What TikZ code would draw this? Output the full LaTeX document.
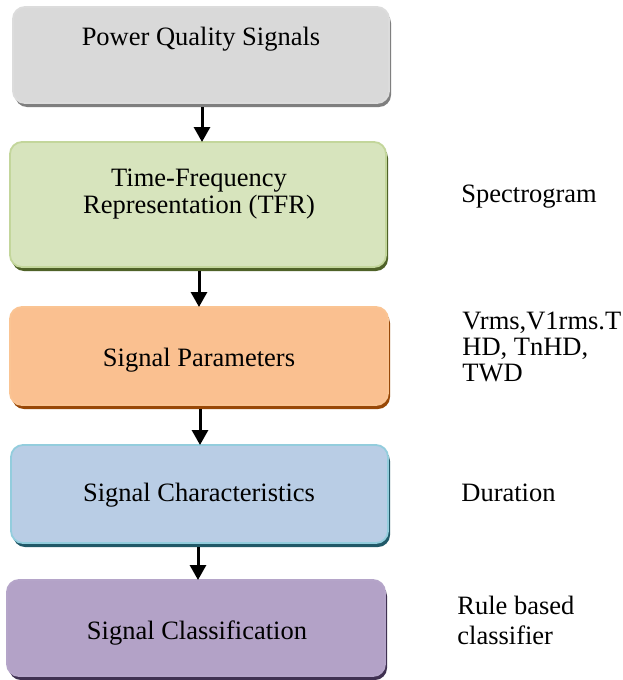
\documentclass[tikz,border=0pt]{standalone}
\usepackage{fontspec}
\newfontfamily\tnr{Liberation Serif}
\usetikzlibrary{arrows.meta,shadows}
\definecolor{grayfill}{HTML}{D9D9D9}
\definecolor{grayline}{HTML}{DCDCDC}
\definecolor{grayshadow}{HTML}{7F7F7F}
\definecolor{greenfill}{HTML}{D7E4BD}
\definecolor{greenline}{HTML}{C3D69B}
\definecolor{greenshadow}{HTML}{4F6228}
\definecolor{orangefill}{HTML}{FAC090}
\definecolor{orangeline}{HTML}{FAC493}
\definecolor{orangeshadow}{HTML}{984807}
\definecolor{bluefill}{HTML}{B9CDE5}
\definecolor{blueline}{HTML}{93CDDD}
\definecolor{blueshadow}{HTML}{215968}
\definecolor{purplefill}{HTML}{B3A2C7}
\definecolor{purpleline}{HTML}{B5A5C9}
\definecolor{purpleshadow}{HTML}{3F3151}
\tikzset{
  stagebox/.style n args={3}{rectangle, rounded corners=6pt, inner sep=0pt, outer sep=0pt,
    fill=#1, draw=#2, line width=0.9pt,
    drop shadow={shadow xshift=1pt, shadow yshift=-2pt, fill=#3, opacity=1}},
  boxtext/.style={anchor=base, inner sep=0pt, font=\tnr\fontsize{13.25}{14}\selectfont},
  sidetext/.style={anchor=base west, inner sep=0pt, font=\tnr\fontsize{13.25}{14}\selectfont},
  arr/.style={line width=1.5pt, -{Triangle[width=8pt,length=7.5pt]}}
}
\begin{document}
\begin{tikzpicture}[x=0.5pt,y=-0.5pt]
\useasboundingbox[fill=white] (0,0) rectangle (622,680);
% boxes
\node[stagebox={grayfill}{grayline}{grayshadow}, minimum width=188pt, minimum height=48pt] (b1) at (201,55) {};
\node[stagebox={greenfill}{greenline}{greenshadow}, minimum width=188pt, minimum height=62.5pt] (b2) at (198,204.5) {};
\node[stagebox={orangefill}{orangeline}{orangeshadow}, minimum width=189pt, minimum height=49pt] (b3) at (199,356) {};
\node[stagebox={bluefill}{blueline}{blueshadow}, minimum width=188.5pt, minimum height=49pt] (b4) at (199.5,494) {};
\node[stagebox={purplefill}{purpleline}{purpleshadow}, minimum width=189pt, minimum height=48pt] (b5) at (196,628) {};
% box texts
\node[boxtext] (t1) at (201,45) {Power Quality Signals};
\node[boxtext] (t2a) at (199,186) {Time-Frequency};
\node[boxtext] (t2b) at (199,213) {Representation (TFR)};
\node[boxtext] (t3) at (199,366) {Signal Parameters};
\node[boxtext] (t4) at (199,501) {Signal Characteristics};
\node[boxtext] (t5) at (197,639) {Signal Classification};
% side texts
\node[sidetext] (s2) at (461,202) {Spectrogram};
\node[sidetext] (s3a) at (462,329) {Vrms,V1rms.T};
\node[sidetext] (s3b) at (462,355) {HD, TnHD,};
\node[sidetext] (s3c) at (462,381) {TWD};
\node[sidetext] (s4) at (461,501) {Duration};
\node[sidetext] (s5a) at (457,614) {Rule based};
\node[sidetext] (s5b) at (457,644) {classifier};
% arrows
\draw[arr] ([xshift=0.5pt,yshift=-2.2pt]b1.south) -- ([xshift=0.5pt]b1.south |- b2.north);
\draw[arr] ([xshift=0.5pt,yshift=-2.2pt]b2.south) -- ([xshift=0.5pt]b2.south |- b3.north);
\draw[arr] ([xshift=0.5pt,yshift=-2.2pt]b3.south) -- ([xshift=0.5pt]b3.south |- b4.north);
\draw[arr] ([xshift=-0.75pt,yshift=-2.2pt]b4.south) -- ([xshift=-0.75pt]b4.south |- b5.north);
\end{tikzpicture}
\end{document}
